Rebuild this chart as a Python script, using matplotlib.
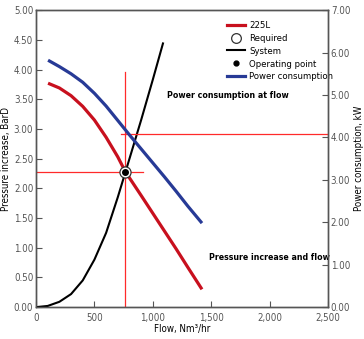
import matplotlib
matplotlib.use("Agg")
import matplotlib.pyplot as plt
from matplotlib.lines import Line2D
from matplotlib.ticker import FuncFormatter

plt.rcParams['font.family'] = ['DejaVu Sans']
plt.rcParams['font.stretch'] = 'condensed'

# pump curve 225L: flow (Nm3/hr) vs pressure increase (BarD)
pump_flow = [103, 200, 300, 400, 500, 600, 700, 765, 900, 1000, 1100, 1200, 1300, 1421]
pump_pres = [3.77, 3.69, 3.56, 3.38, 3.15, 2.86, 2.53, 2.28, 1.88, 1.58, 1.28, 0.98, 0.67, 0.30]

# system curve
sys_flow = [0, 100, 200, 300, 400, 500, 600, 700, 765, 900, 1000, 1087]
sys_pres = [0.0, 0.02, 0.09, 0.22, 0.45, 0.80, 1.25, 1.85, 2.27, 3.15, 3.83, 4.44]

# power consumption (kW, right axis)
pow_flow = [103, 200, 300, 400, 500, 600, 700, 800, 900, 1000, 1100, 1200, 1300, 1421]
pow_kw = [5.82, 5.67, 5.50, 5.30, 5.04, 4.74, 4.40, 4.06, 3.73, 3.40, 3.07, 2.73, 2.38, 1.98]

op_flow = 765
op_pres = 2.27
op_power = 4.08

fig = plt.figure(figsize=(3.64, 3.39), dpi=100)
ax = fig.add_axes([0.099, 0.094, 0.802, 0.876])
ax2 = ax.twinx()

grey = '#555555'
ref_red = '#ff2a2a'

# reference lines
ax.plot([op_flow, op_flow], [0, 3.96], color=ref_red, lw=0.9, zorder=2)
ax.plot([0, 920], [op_pres, op_pres], color=ref_red, lw=0.9, zorder=2)
ax2.plot([730, 2500], [op_power, op_power], color=ref_red, lw=0.9, zorder=2)

ax.plot(pump_flow, pump_pres, color='#c8101e', lw=2.3, solid_capstyle='butt', zorder=3)
ax.plot(sys_flow, sys_pres, color='black', lw=1.5, zorder=4)
ax2.plot(pow_flow, pow_kw, color='#273a96', lw=2.3, solid_capstyle='butt', zorder=3)

ax.plot([op_flow], [op_pres], marker='o', ms=8, mfc='white', mec='#333333', mew=0.9,
        linestyle='none', zorder=5)
ax.plot([op_flow], [op_pres], marker='o', ms=4, color='black', linestyle='none', zorder=6)

ax.set_xlim(0, 2500)
ax.set_ylim(0, 5)
ax2.set_ylim(0, 7)
ax.set_xticks([0, 500, 1000, 1500, 2000, 2500])
ax.set_yticks([0, 0.5, 1, 1.5, 2, 2.5, 3, 3.5, 4, 4.5, 5])
ax2.set_yticks([0, 1, 2, 3, 4, 5, 6, 7])
ax.xaxis.set_major_formatter(FuncFormatter(lambda v, p: f"{int(v):,}"))
ax.yaxis.set_major_formatter(FuncFormatter(lambda v, p: f"{v:.2f}"))
ax2.yaxis.set_major_formatter(FuncFormatter(lambda v, p: f"{v:.2f}"))

for a in (ax, ax2):
    a.tick_params(direction='in', length=4, width=0.8, color=grey, labelcolor=grey,
                  labelsize=7, pad=2)
    for s in a.spines.values():
        s.set_color(grey)
        s.set_linewidth(1.0)
ax.tick_params(axis='x', pad=4)

ax.set_xlabel("Flow, Nm³/hr", fontsize=7, labelpad=1)
ax.set_ylabel("Pressure increase, BarD", fontsize=7, labelpad=2)
ax2.set_ylabel("Power consumption, kW", fontsize=7, labelpad=3)

ax.text(1122, 3.57, "Power consumption at flow", fontsize=6.3, fontweight='bold', va='center')
ax.text(1481, 0.84, "Pressure increase and flow", fontsize=6.3, fontweight='bold', va='center')

handles = [
    Line2D([], [], color='#c8101e', lw=2.3),
    Line2D([], [], marker='o', ms=7, mfc='white', mec='#333333', mew=0.9, linestyle='none'),
    Line2D([], [], color='black', lw=1.5),
    Line2D([], [], marker='o', ms=3.5, color='black', linestyle='none'),
    Line2D([], [], color='#273a96', lw=2.3),
]
labels = ["225L", "Required", "System", "Operating point", "Power consumption"]
ax.legend(handles, labels, loc='upper left', bbox_to_anchor=(0.63, 0.985), frameon=False,
          fontsize=6.8, handlelength=2.0, handletextpad=0.4, labelspacing=0.4,
          borderpad=0.2)

fig.savefig("out.png", dpi=100)
